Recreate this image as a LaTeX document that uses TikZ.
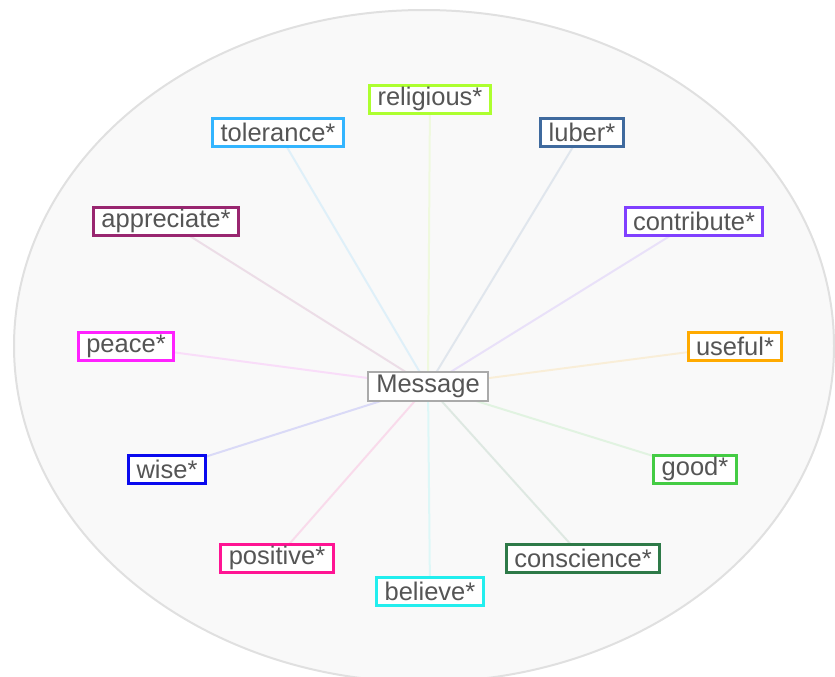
\documentclass[tikz,border=0pt]{standalone}
\usepackage{fontspec}
\setmainfont{Liberation Sans}
\usetikzlibrary{backgrounds}
\definecolor{txt}{HTML}{555555}
\definecolor{cReligious}{HTML}{ADFF2F}
\definecolor{cTolerance}{HTML}{33B5FF}
\definecolor{cLuber}{HTML}{3F6A9E}
\definecolor{cAppreciate}{HTML}{992670}
\definecolor{cContribute}{HTML}{8040FF}
\definecolor{cPeace}{HTML}{FF22FF}
\definecolor{cUseful}{HTML}{FFAA00}
\definecolor{cWise}{HTML}{0A0AEE}
\definecolor{cGood}{HTML}{44CC44}
\definecolor{cPositive}{HTML}{FF1493}
\definecolor{cBelieve}{HTML}{22EEEE}
\definecolor{cConscience}{HTML}{2E7A48}
\definecolor{cMessage}{HTML}{AAAAAA}
\tikzset{
  word/.style={draw=#1, line width=3pt, fill=white, text=txt,
    font=\fontsize{25.5}{28}\selectfont, inner xsep=8pt, inner ysep=1pt,
    minimum height=28pt},
  hub/.style={draw=cMessage, line width=2pt, fill=white, text=txt,
    font=\fontsize{25.5}{28}\selectfont, inner xsep=8pt, inner ysep=1pt,
    minimum height=29pt},
  link/.style={draw=#1, line width=2pt, draw opacity=0.13},
  cloud/.style={fill=black!2.5, draw=black!12, line width=2pt}
}
\begin{document}
\begin{tikzpicture}[x=1pt,y=-1pt]
\useasboundingbox (0,0) rectangle (835,677);
\node[hub] (msg) at (428,386) {Message};
\node[word=cReligious] (religious) at (430,99) {religious*};
\node[word=cTolerance] (tolerance) at (278,132) {tolerance*};
\node[word=cLuber] (luber) at (582,132) {luber*};
\node[word=cAppreciate] (appreciate) at (166,221) {appreciate*};
\node[word=cContribute] (contribute) at (694,221) {contribute*};
\node[word=cPeace] (peace) at (126,346) {peace*};
\node[word=cUseful] (useful) at (735,346) {useful*};
\node[word=cWise] (wise) at (167,469) {wise*};
\node[word=cGood] (good) at (695,469) {good*};
\node[word=cPositive] (positive) at (277,558) {positive*};
\node[word=cBelieve] (believe) at (430,591) {believe*};
\node[word=cConscience] (conscience) at (583,558) {conscience*};
\begin{scope}[on background layer]
  \draw[cloud] (424,346) ellipse [x radius=410, y radius=336];
  \draw[link=cReligious] (msg.center) -- (religious.center);
  \draw[link=cTolerance] (msg.center) -- (tolerance.center);
  \draw[link=cLuber] (msg.center) -- (luber.center);
  \draw[link=cAppreciate] (msg.center) -- (appreciate.center);
  \draw[link=cContribute] (msg.center) -- (contribute.center);
  \draw[link=cPeace] (msg.center) -- (peace.center);
  \draw[link=cUseful] (msg.center) -- (useful.center);
  \draw[link=cWise] (msg.center) -- (wise.center);
  \draw[link=cGood] (msg.center) -- (good.center);
  \draw[link=cPositive] (msg.center) -- (positive.center);
  \draw[link=cBelieve] (msg.center) -- (believe.center);
  \draw[link=cConscience] (msg.center) -- (conscience.center);
\end{scope}
\end{tikzpicture}
\end{document}
